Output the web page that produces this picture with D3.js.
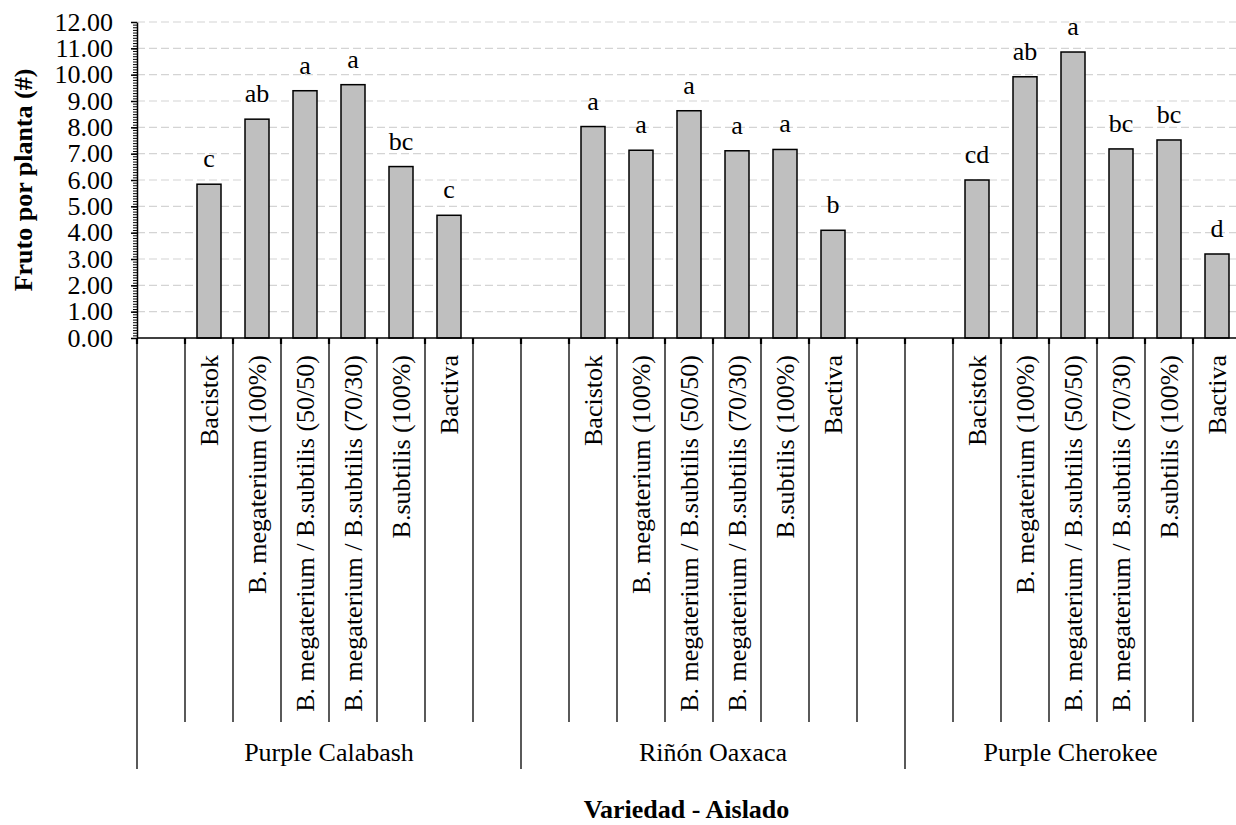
<!DOCTYPE html>
<html>
<head>
<meta charset="utf-8">
<script src="https://cdn.jsdelivr.net/npm/d3@7"></script>
<style>
    body { margin: 0; background: #fff; }
    svg text { font-family: "Times New Roman", "Liberation Serif", Tinos, "DejaVu Serif", "Noto Serif", serif !important; }
</style>
</head>
<body>
<div id="chart"></div>
<script>
const GROUPS = ["Purple Calabash", "Riñón Oaxaca", "Purple Cherokee"];
const TREATMENTS = [
    "Bacistok",
    "B. megaterium (100%)",
    "B. megaterium / B.subtilis (50/50)",
    "B. megaterium / B.subtilis (70/30)",
    "B.subtilis (100%)",
    "Bactiva"
];
const CALABASH_VALUES = [5.84, 8.31, 9.39, 9.62, 6.51, 4.66];
const OAXACA_VALUES = [8.03, 7.13, 8.63, 7.11, 7.16, 4.09];
const CHEROKEE_VALUES = [6.00, 9.92, 10.86, 7.18, 7.52, 3.19];
const CALABASH_LETTERS = ["c", "ab", "a", "a", "bc", "c"];
const OAXACA_LETTERS = ["a", "a", "a", "a", "a", "b"];
const CHEROKEE_LETTERS = ["cd", "ab", "a", "bc", "bc", "d"];
const Y_TICKS = [0, 1, 2, 3, 4, 5, 6, 7, 8, 9, 10, 11, 12];

const WIDTH = 1236;
const HEIGHT = 825;
const LEFT = 137;
const TOP = 22;
const BASE = 338;
const SLOT = 48;
const CAT_BOTTOM = 722;
const GROUP_BOTTOM = 769;

const valuesByGroup = [CALABASH_VALUES, OAXACA_VALUES, CHEROKEE_VALUES];
const lettersByGroup = [CALABASH_LETTERS, OAXACA_LETTERS, CHEROKEE_LETTERS];

// every group has an empty slot before and after its six treatments
let slots = [];
GROUPS.forEach((g, gi) => {
    slots.push({ key: g + "|pre", group: gi, label: "" });
    TREATMENTS.forEach((t, ti) => {
        slots.push({ key: g + "|" + ti, group: gi, label: t,
                     value: valuesByGroup[gi][ti], letter: lettersByGroup[gi][ti] });
    });
    slots.push({ key: g + "|post", group: gi, label: "" });
});
const bars = slots.filter(d => d.label !== "");

const X = d3.scaleBand()
            .domain(slots.map(d => d.key))
            .range([LEFT, LEFT + slots.length * SLOT])
            .paddingInner(0.5)
            .paddingOuter(0.25);
const Y = d3.scaleLinear()
            .domain([0, 12])
            .range([BASE, TOP]);

const svg = d3.select("#chart")
              .append("svg")
              .attr("width", WIDTH)
              .attr("height", HEIGHT);

// dashed gridlines
svg.append("g")
   .selectAll("line")
   .data(Y_TICKS.filter(t => t > 0))
   .enter()
   .append("line")
   .attr("x1", LEFT)
   .attr("x2", WIDTH)
   .attr("y1", d => Y(d))
   .attr("y2", d => Y(d))
   .attr("stroke", "#d4d4d4")
   .attr("stroke-width", 1.2)
   .attr("stroke-dasharray", "8,4");

// bars
svg.append("g")
   .selectAll("rect")
   .data(bars)
   .enter()
   .append("rect")
   .attr("x", d => X(d.key))
   .attr("y", d => Y(d.value))
   .attr("width", X.bandwidth())
   .attr("height", d => BASE - Y(d.value))
   .attr("fill", "#bfbfbf")
   .attr("stroke", "#000")
   .attr("stroke-width", 1.5);

// significance letters
svg.append("g")
   .selectAll("text")
   .data(bars)
   .enter()
   .append("text")
   .attr("x", d => X(d.key) + X.bandwidth() / 2)
   .attr("y", d => Y(d.value) - 17)
   .attr("text-anchor", "middle")
   .attr("font-size", "26px")
   .text(d => d.letter);

// y axis with minor ticks
const minorTicks = d3.range(0, 120.5, 1).map(v => v / 10);
svg.append("g")
   .attr("transform", "translate(" + LEFT + ",0)")
   .call(d3.axisLeft(Y).tickValues(minorTicks).tickSize(4).tickFormat(""))
   .call(g => g.select(".domain").remove())
   .selectAll("line")
   .attr("stroke-width", 1);

const yAxis = svg.append("g")
   .attr("transform", "translate(" + LEFT + ",0)")
   .call(d3.axisLeft(Y).tickValues(Y_TICKS).tickSize(6).tickSizeOuter(0).tickPadding(18).tickFormat(d3.format(".2f")));
yAxis.select(".domain").attr("stroke-width", 1.5);
yAxis.selectAll("line").attr("stroke-width", 1.5);
yAxis.selectAll("text")
     .attr("font-size", "26px")
     .attr("fill", "#000");

// x baseline
svg.append("line")
   .attr("x1", LEFT)
   .attr("x2", WIDTH)
   .attr("y1", BASE)
   .attr("y2", BASE)
   .attr("stroke", "#000")
   .attr("stroke-width", 1.5);

// slot separators (category level) and group separators
const boundaries = slots.map((d, i) => ({ x: X(d.key) - X.step() * 0.25, groupEdge: i % 8 === 0 }));
boundaries.push({ x: LEFT + slots.length * SLOT, groupEdge: true });

svg.append("g")
   .selectAll("line")
   .data(boundaries)
   .enter()
   .append("line")
   .attr("x1", d => d.x)
   .attr("x2", d => d.x)
   .attr("y1", BASE)
   .attr("y2", d => d.groupEdge ? GROUP_BOTTOM : CAT_BOTTOM)
   .attr("stroke", "#000")
   .attr("stroke-width", 1.3);

svg.append("g")
   .selectAll("line")
   .data(boundaries)
   .enter()
   .append("line")
   .attr("x1", d => d.x)
   .attr("x2", d => d.x)
   .attr("y1", BASE)
   .attr("y2", BASE + 6)
   .attr("stroke", "#000")
   .attr("stroke-width", 2.2);

// rotated treatment labels
svg.append("g")
   .selectAll("text")
   .data(bars)
   .enter()
   .append("text")
   .attr("transform", d => "translate(" + (X(d.key) + X.bandwidth() / 2) + "," + 355 + ") rotate(-90)")
   .attr("dy", "0.35em")
   .attr("text-anchor", "end")
   .attr("font-size", "26px")
   .text(d => d.label);

// group labels, centred on the visible part of each group
svg.append("g")
   .selectAll("text")
   .data(GROUPS)
   .enter()
   .append("text")
   .attr("x", (d, i) => {
       const start = X(d + "|pre") - X.step() * 0.25;
       const end = Math.min(start + 8 * SLOT, WIDTH);
       return (start + end) / 2;
   })
   .attr("y", 761)
   .attr("text-anchor", "middle")
   .attr("font-size", "26px")
   .text(d => d);

// axis titles
svg.append("text")
   .attr("transform", "translate(32," + ((TOP + BASE) / 2) + ") rotate(-90)")
   .attr("text-anchor", "middle")
   .attr("font-size", "26px")
   .attr("font-weight", "bold")
   .text("Fruto por planta (#)");

svg.append("text")
   .attr("x", (LEFT + WIDTH) / 2)
   .attr("y", 818)
   .attr("text-anchor", "middle")
   .attr("font-size", "26px")
   .attr("font-weight", "bold")
   .text("Variedad - Aislado");
</script>
</body>
</html>
